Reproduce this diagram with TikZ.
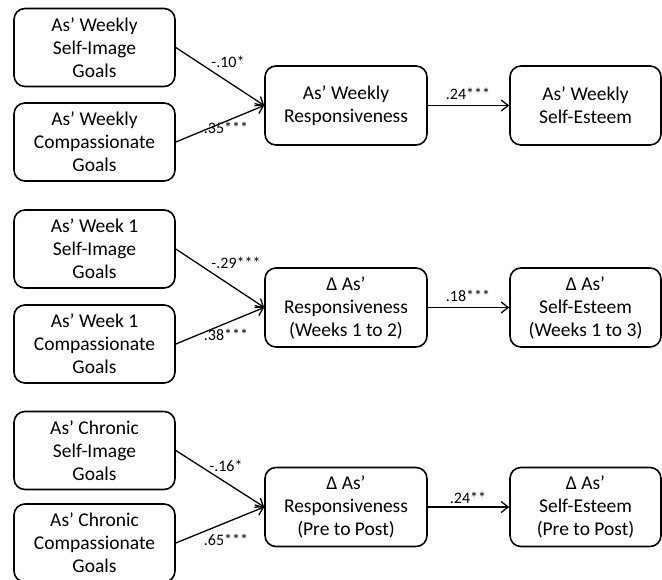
\documentclass[tikz,border=0pt]{standalone}
\usepackage{fontspec}
\setmainfont{Carlito}
\usetikzlibrary{arrows.meta}
\tikzset{
        goal/.style={draw,line width=1.6pt,rounded corners=11pt,align=center,minimum width=161pt,minimum height=78pt,inner sep=0pt,font=\fontsize{19.5}{23}\selectfont},
        mid/.style={goal,minimum width=162pt,minimum height=79pt},
        outc/.style={goal,minimum width=151pt,minimum height=79pt},
        path/.style={line width=1.3pt,-{Straight Barb[length=7pt,width=11pt,line width=1.3pt]}},
        coef/.style={font=\fontsize{16}{18}\selectfont,inner sep=0pt}
    }

\begin{document}
\begin{tikzpicture}[x=1pt,y=-1pt]
            \useasboundingbox (0,0) rectangle (662,580);

            % weekly
            \node [goal] (1) at (94.5, 47.5) {As’ Weekly\\Self-Image\\Goals};
            \node [goal] (2) at (94.5, 142) {As’ Weekly\\Compassionate\\Goals};
            \node [mid] (3) at (346, 105.5) {As’ Weekly\\Responsiveness};
            \node [outc] (4) at (585.5, 105.5) {As’ Weekly\\Self-Esteem};

            \draw [path] (1.east) -- (3.west);
            \draw [path] (2.east) -- (3.west);
            \draw [path] (3) -- (4);
            \node [coef] at (228, 62) {-.10*};
            \node [coef] at (226, 128) {.35***};
            \node [coef] at (468, 94) {.24***};

            % week 1
            \node [goal] (5) at (94.5, 249) {As’ Week 1\\Self-Image\\Goals};
            \node [goal] (6) at (94.5, 344) {As’ Week 1\\Compassionate\\Goals};
            \node [mid] (7) at (346, 307.5) {Δ As’\\Responsiveness\\(Weeks 1 to 2)};
            \node [outc] (8) at (585.5, 307.5) {Δ As’\\Self-Esteem\\(Weeks 1 to 3)};

            \draw [path] (5.east) -- (7.west);
            \draw [path] (6.east) -- (7.west);
            \draw [path] (7) -- (8);
            \node [coef] at (236, 263) {-.29***};
            \node [coef] at (226, 335) {.38***};
            \node [coef] at (468, 296) {.18***};

            % chronic
            \node [goal] (9) at (94.5, 450.5) {As’ Chronic\\Self-Image\\Goals};
            \node [goal] (10) at (94.5, 543) {As’ Chronic\\Compassionate\\Goals};
            \node [mid] (11) at (346, 507) {Δ As’\\Responsiveness\\(Pre to Post)};
            \node [outc] (12) at (585.5, 507) {Δ As’\\Self-Esteem\\(Pre to Post)};

            \draw [path] (9.east) -- (11.west);
            \draw [path] (10.east) -- (11.west);
            \draw [path] (11) -- (12);
            \node [coef] at (226, 466) {-.16*};
            \node [coef] at (226, 540) {.65***};
            \node [coef] at (468, 498) {.24**};
        \end{tikzpicture}
\end{document}
